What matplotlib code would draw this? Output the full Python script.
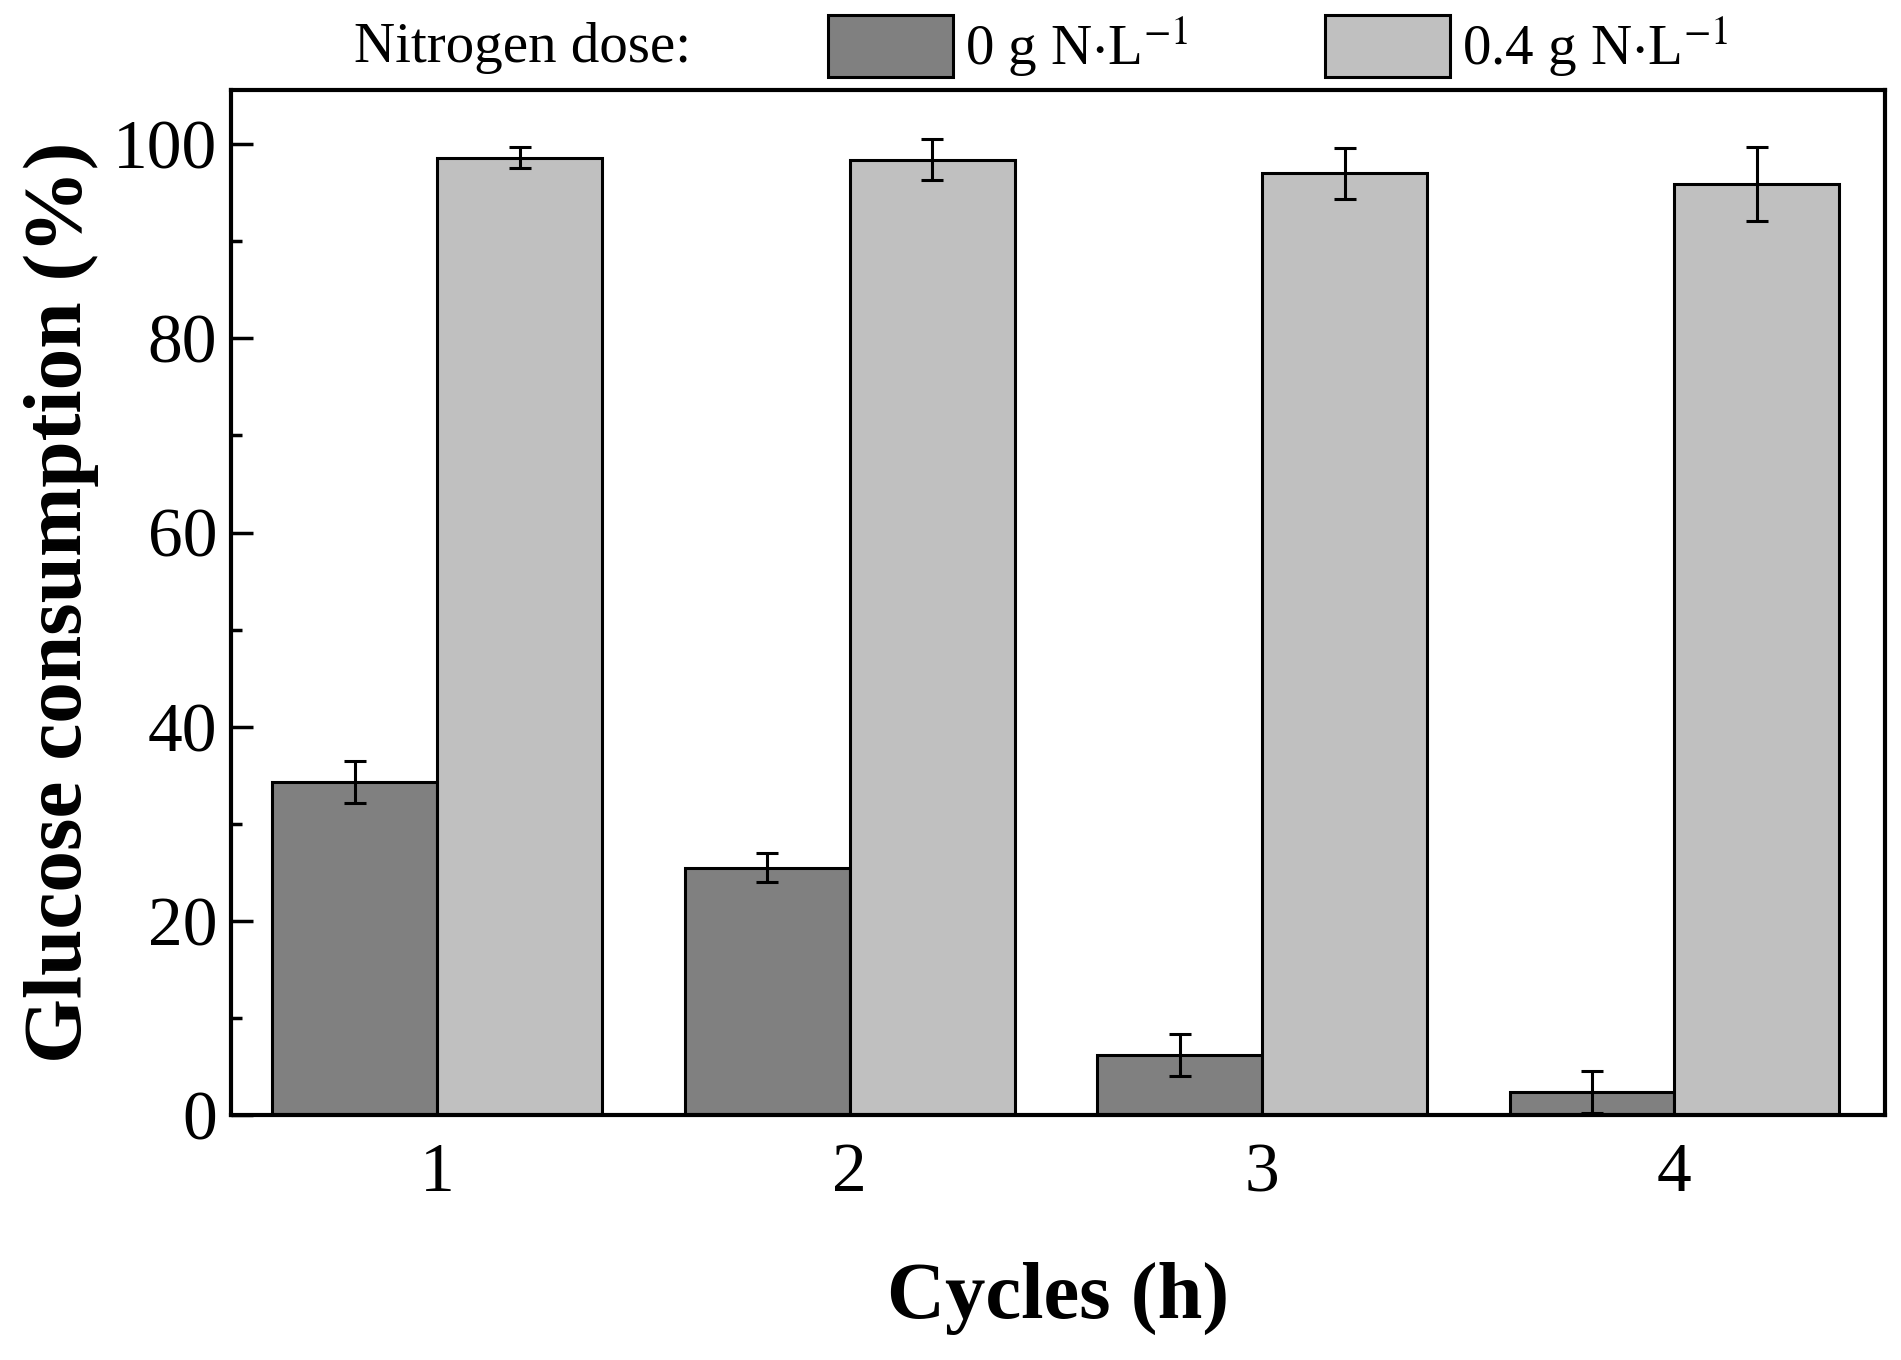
import matplotlib
matplotlib.use("Agg")
import matplotlib.pyplot as plt
import numpy as np
from matplotlib.patches import Patch
from matplotlib.ticker import MultipleLocator

plt.rcParams['font.family'] = ['Liberation Serif', 'DejaVu Serif']
plt.rcParams['mathtext.fontset'] = 'stix'

cycles = ['1', '2', '3', '4']
series_names = [r'0 g N$\cdot$L$^{-1}$', r'0.4 g N$\cdot$L$^{-1}$']
n0_vals = [34.3, 25.5, 6.2, 2.4]
n0_err = [2.2, 1.5, 2.2, 2.2]
n04_vals = [98.6, 98.4, 97.0, 95.9]
n04_err = [1.1, 2.1, 2.6, 3.8]
colors = ['#808080', '#c0c0c0']

fig = plt.figure(figsize=(19.01, 13.60), dpi=100)
ax = fig.add_axes([0.1215, 0.180, 0.870, 0.754])

x = np.arange(1, len(cycles) + 1)
w = 0.4
ekw = dict(elinewidth=2.2, capthick=2.2, ecolor='black')
ax.bar(x - w / 2, n0_vals, w, yerr=n0_err, color=colors[0], edgecolor='black',
       linewidth=2.2, capsize=8, error_kw=ekw, zorder=2)
ax.bar(x + w / 2, n04_vals, w, yerr=n04_err, color=colors[1], edgecolor='black',
       linewidth=2.2, capsize=8, error_kw=ekw, zorder=2)

ax.set_xlim(0.5, 4.51)
ax.set_ylim(0, 105.6)
ax.set_xticks(x)
ax.set_xticklabels(cycles)
ax.yaxis.set_major_locator(MultipleLocator(20))
ax.yaxis.set_minor_locator(MultipleLocator(10))
ax.tick_params(axis='x', length=0, labelsize=50, pad=20)
ax.tick_params(axis='y', which='major', direction='in', length=16, width=2.5, labelsize=50, pad=10)
ax.tick_params(axis='y', which='minor', direction='in', length=8, width=2.5)
for s in ax.spines.values():
    s.set_linewidth(3)

ax.set_xlabel('Cycles (h)', fontsize=58, fontweight='bold', labelpad=40)
ax.set_ylabel('Glucose consumption (%)', fontsize=60, fontweight='bold', labelpad=10)

handles = [Patch(facecolor=colors[0], edgecolor='black', linewidth=2.2),
           Patch(facecolor=colors[1], edgecolor='black', linewidth=2.2)]
fig.text(0.186, 0.965, 'Nitrogen dose:', fontsize=41, ha='left', va='center')
fig.legend(handles, series_names, loc='center left', bbox_to_anchor=(0.4355, 0.965),
           ncol=2, frameon=False, fontsize=41, handlelength=2.2, handleheight=1.3,
           handletextpad=0.2, columnspacing=2.4, borderpad=0, borderaxespad=0)

fig.savefig('out.png', dpi=100)
